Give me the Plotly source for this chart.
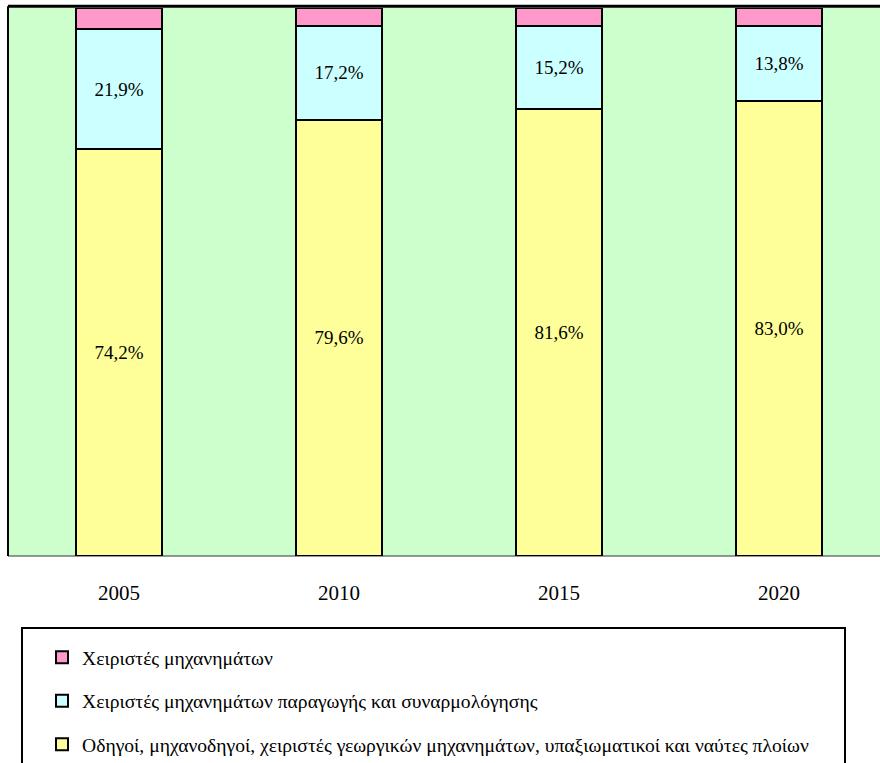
import plotly.graph_objects as go

years = ["2005", "2010", "2015", "2020"]
drivers = [74.2, 79.6, 81.6, 83.0]
assembly = [21.9, 17.2, 15.2, 13.8]
operators = [3.9, 3.2, 3.2, 3.2]

names = [
    "Οδηγοί, μηχανοδηγοί, χειριστές γεωργικών μηχανημάτων, υπαξιωματικοί και ναύτες πλοίων",
    "Χειριστές μηχανημάτων παραγωγής και συναρμολόγησης",
    "Χειριστές μηχανημάτων",
]
colors = ["#FFFF99", "#CCFFFF", "#FF99CC"]

W, H = 880, 763
L, T, B = 9, 8, 207
plot_w = W - L
plot_h = H - T - B


def pct(v):
    return f"{v:.1f}".replace(".", ",") + "%"


FONT = "Liberation Serif"

fig = go.Figure()
series = [(drivers, True), (assembly, True), (operators, False)]
for i, ((vals, labelled), name, col) in enumerate(zip(series, names, colors)):
    fig.add_trace(go.Bar(
        x=years, y=vals, name=name, legendgroup=f"g{i}",
        legendrank=3 - i,
        marker=dict(color=col, line=dict(color="black", width=2)),
        text=[pct(v) for v in vals] if labelled else None,
        textposition="inside" if labelled else "none",
        insidetextanchor="middle",
        textangle=0,
        constraintext="none",
        textfont=dict(family=FONT, size=19, color="black"),
        width=0.395,
        hoverinfo="skip",
    ))

fig.update_layout(
    width=W, height=H,
    margin=dict(l=L, r=0, t=T, b=B, pad=0, autoexpand=False),
    barmode="stack",
    paper_bgcolor="white",
    plot_bgcolor="#CCFFCC",
    font=dict(family=FONT, size=19, color="black"),
    showlegend=True,
    legend=dict(
        traceorder="grouped",
        tracegroupgap=15,
        x=(42 - L) / plot_w, xanchor="left",
        y=-(638 - (H - B)) / plot_h, yanchor="top",
        bgcolor="rgba(0,0,0,0)",
        borderwidth=0,
        font=dict(family=FONT, size=19.6, color="black"),
    ),
    xaxis=dict(
        range=[-0.5, -0.5 + plot_w / 220.0],
        showgrid=False, zeroline=False, showline=False,
        ticks="", ticklabelstandoff=22,
        tickfont=dict(family=FONT, size=21, color="black"),
    ),
    yaxis=dict(
        range=[0, 100], showgrid=False, zeroline=False,
        showticklabels=False, showline=False, ticks="",
    ),
)

# frame of the plotting area: heavy top edge, left edge, thin base line
fig.add_shape(type="line", xref="paper", yref="paper", x0=-1 / plot_w, x1=1, y0=1.003, y1=1.003,
              line=dict(color="black", width=3))
fig.add_shape(type="line", xref="paper", yref="paper", x0=-1 / plot_w, x1=-1 / plot_w, y0=0, y1=1.003,
              line=dict(color="black", width=2))
fig.add_shape(type="line", xref="paper", yref="paper", x0=-1 / plot_w, x1=1, y0=0, y1=0,
              line=dict(color="#333333", width=1), layer="below")

# legend frame
fig.add_shape(type="rect", xref="paper", yref="paper",
              x0=(22 - L) / plot_w, x1=(845 - L) / plot_w,
              y0=-(775 - (H - B)) / plot_h, y1=-(628 - (H - B)) / plot_h,
              line=dict(color="black", width=2), fillcolor="rgba(0,0,0,0)")

fig.write_html("out.html")
